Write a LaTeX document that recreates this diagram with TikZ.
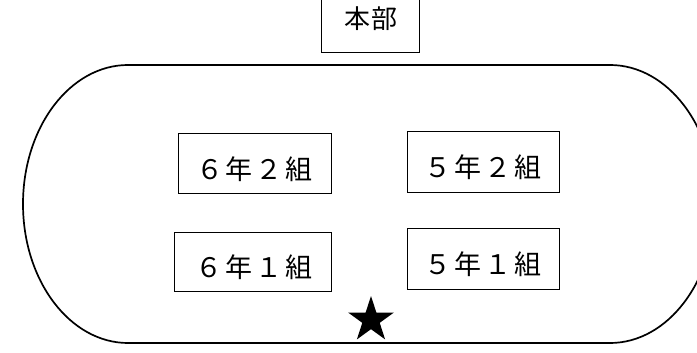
\documentclass[tikz,border=0pt]{standalone}
\usepackage{fontspec}
\newfontfamily\jp{Noto Sans CJK JP}
\usetikzlibrary{shapes.geometric}
\newcommand{\gp}{\hspace{3pt}}
\begin{document}
\begin{tikzpicture}[x=1pt,y=-1pt,
  classbox/.style={draw, line width=0.9pt, inner sep=0pt},
  lbl/.style={inner sep=0pt, font=\jp\fontsize{27}{27}\selectfont},
  track/.style={draw, line width=1.7pt}]
\useasboundingbox (0,0) rectangle (697,353);
\begin{scope}
\clip (0,0) rectangle (697,353);
\draw[track] (128,65) -- (610,65)
  arc[start angle=-90, end angle=90, x radius=105, y radius=139]
  -- (128,343)
  arc[start angle=90, end angle=270, x radius=105, y radius=139] -- cycle;
\node[classbox, minimum width=98pt, minimum height=66pt] (hq) at (370,19) {};
\end{scope}
\node[lbl, font=\jp\fontsize{26}{26}\selectfont] (hqt) at (371,19) {本\hspace{2pt}部};
\node[classbox, minimum width=153pt, minimum height=60pt] (c62) at (254.5,163) {};
\node[classbox, minimum width=152pt, minimum height=61pt] (c52) at (483,161.5) {};
\node[classbox, minimum width=157pt, minimum height=59pt] (c61) at (252.5,261.5) {};
\node[classbox, minimum width=152pt, minimum height=61pt] (c51) at (483,258.5) {};
\node[lbl] (t62) at ([yshift=-6pt]c62.center) {６\gp 年\gp ２\gp 組};
\node[lbl] (t52) at ([yshift=-6pt]c52.center) {５\gp 年\gp ２\gp 組};
\node[lbl] (t61) at ([yshift=-6pt,xshift=1.5pt]c61.center) {６\gp 年\gp １\gp 組};
\node[lbl] (t51) at ([yshift=-6pt]c51.center) {５\gp 年\gp １\gp 組};
\node[star, star points=5, star point ratio=2.618, fill=black, minimum size=48pt, inner sep=0pt] (goal) at (371,320) {};
\end{tikzpicture}
\end{document}
